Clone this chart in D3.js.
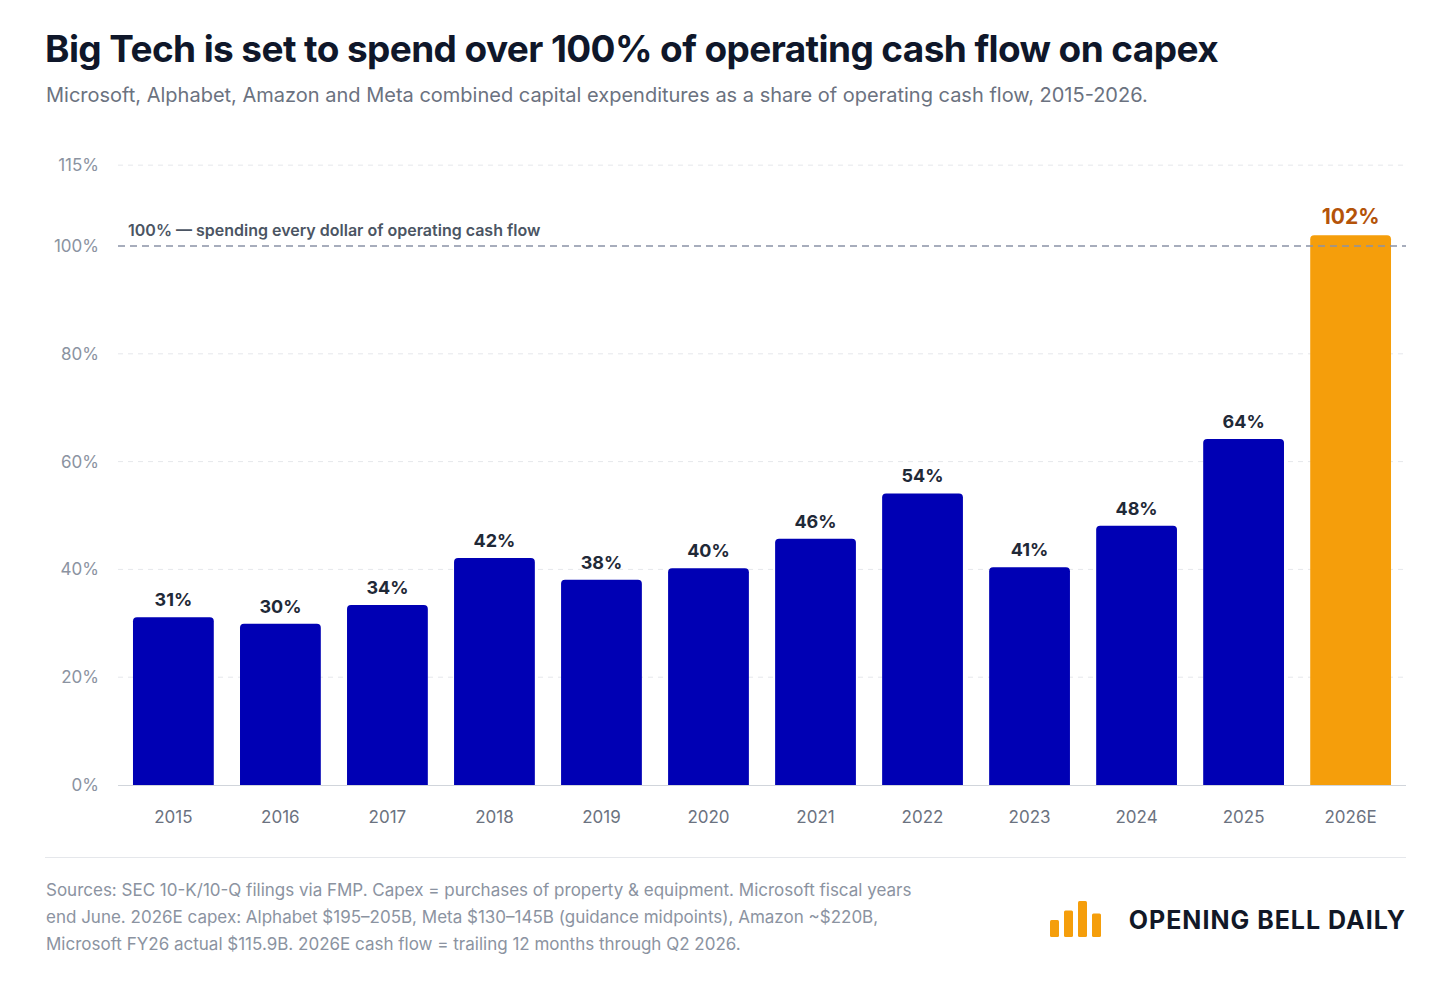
<!DOCTYPE html>
<html>
<head>
<meta charset="utf-8">
<script src="https://cdn.jsdelivr.net/npm/d3@7"></script>
<style>
  body { margin: 0; background: #fff; font-family: Inter, "Noto Sans", sans-serif; }
</style>
</head>
<body>
<svg id="chart" width="1456" height="985"></svg>
<script>
const years = ['2015', '2016', '2017', '2018', '2019', '2020', '2021', '2022', '2023', '2024', '2025', '2026E'];
const shares = [31.1, 29.9, 33.4, 42.1, 38.1, 40.2, 45.7, 54.1, 40.4, 48.1, 64.2, 102];
const labels = ['31%', '30%', '34%', '42%', '38%', '40%', '46%', '54%', '41%', '48%', '64%', '102%'];
const yTicks = [0, 20, 40, 60, 80, 100, 115];
const footnote = [
    'Sources: SEC 10-K/10-Q filings via FMP. Capex = purchases of property & equipment. Microsoft fiscal years',
    'end June. 2026E capex: Alphabet $195\u2013205B, Meta $130\u2013145B (guidance midpoints), Amazon ~$220B,',
    'Microsoft FY26 actual $115.9B. 2026E cash flow = trailing 12 months through Q2 2026.'
];
const logoBars = [0.45, 0.7, 0.95, 0.62];

const svg = d3.select('#chart');
const left = 118, right = 1406, bottom = 785;

svg.append('text').attr('x', 45).attr('y', 62)
    .attr('font-size', 37).attr('font-weight', 700).attr('fill', '#0f172a')
    .attr('letter-spacing', -0.6)
    .text('Big Tech is set to spend over 100% of operating cash flow on capex');
svg.append('text').attr('x', 46).attr('y', 102)
    .attr('font-size', 20).attr('fill', '#6b7280')
    .text('Microsoft, Alphabet, Amazon and Meta combined capital expenditures as a share of operating cash flow, 2015-2026.');

const y = d3.scaleLinear().domain([0, 100]).range([bottom, 246]);
const x = d3.scaleBand().domain(years).range([left, right]).paddingInner(0.245).paddingOuter(0.14);

// gridlines
svg.append('g').selectAll('line').data(yTicks.filter(d => d !== 0 && d !== 100)).join('line')
    .attr('x1', left).attr('x2', right)
    .attr('y1', d => y(d)).attr('y2', d => y(d))
    .attr('stroke', '#e5e7eb').attr('stroke-dasharray', '5,5');

svg.append('g').selectAll('text').data(yTicks).join('text')
    .attr('x', 99).attr('y', d => y(d) + 6)
    .attr('text-anchor', 'end').attr('font-size', 17).attr('fill', '#8b93a1')
    .text(d => d + '%');

// bars with rounded tops
const r = 4;
svg.append('g').selectAll('path').data(years).join('path')
    .attr('d', (d, i) => {
        const x0 = x(d), w = x.bandwidth(), top = y(shares[i]);
        return `M${x0},${bottom}V${top + r}Q${x0},${top} ${x0 + r},${top}H${x0 + w - r}Q${x0 + w},${top} ${x0 + w},${top + r}V${bottom}Z`;
    })
    .attr('fill', (d, i) => i === years.length - 1 ? '#f59e0b' : '#0000b4');

svg.append('g').selectAll('text').data(years).join('text')
    .attr('x', d => x(d) + x.bandwidth() / 2)
    .attr('y', (d, i) => y(shares[i]) - 11)
    .attr('text-anchor', 'middle')
    .attr('font-size', (d, i) => i === years.length - 1 ? 21 : 18)
    .attr('font-weight', 700)
    .attr('fill', (d, i) => i === years.length - 1 ? '#b45309' : '#1f2937')
    .text((d, i) => labels[i]);

// baseline and x labels
svg.append('line').attr('x1', left).attr('x2', right).attr('y1', bottom + 0.5).attr('y2', bottom + 0.5)
    .attr('stroke', '#d1d5db');
svg.append('g').selectAll('text').data(years).join('text')
    .attr('x', d => x(d) + x.bandwidth() / 2).attr('y', 823)
    .attr('text-anchor', 'middle').attr('font-size', 17).attr('fill', '#6b7280')
    .text(d => d);

// 100% reference
svg.append('line').attr('x1', left).attr('x2', right).attr('y1', y(100)).attr('y2', y(100))
    .attr('stroke', '#8b93a6').attr('stroke-width', 1.3).attr('stroke-dasharray', '7,5');
svg.append('text').attr('x', 128).attr('y', y(100) - 10)
    .attr('font-size', 16).attr('font-weight', 600).attr('fill', '#4b5563')
    .text('100% \u2014 spending every dollar of operating cash flow');

// footer
svg.append('line').attr('x1', 45).attr('x2', right).attr('y1', 857.5).attr('y2', 857.5).attr('stroke', '#e5e7eb');
svg.append('g').selectAll('text').data(footnote).join('text')
    .attr('x', 46).attr('y', (d, i) => 896 + i * 27)
    .attr('font-size', 17).attr('fill', '#8b93a1')
    .text(d => d);

const logo = svg.append('g').attr('transform', 'translate(1050,937)');
logo.selectAll('rect').data(logoBars).join('rect')
    .attr('x', (d, i) => i * 14).attr('y', d => -38 * d).attr('width', 9).attr('height', d => 38 * d)
    .attr('rx', 1.5).attr('fill', '#f59e0b');
svg.append('text').attr('x', 1406).attr('y', 929).attr('text-anchor', 'end')
    .attr('font-size', 25).attr('font-weight', 700).attr('fill', '#111827').attr('letter-spacing', 1)
    .text('OPENING BELL DAILY');
</script>
</body>
</html>
